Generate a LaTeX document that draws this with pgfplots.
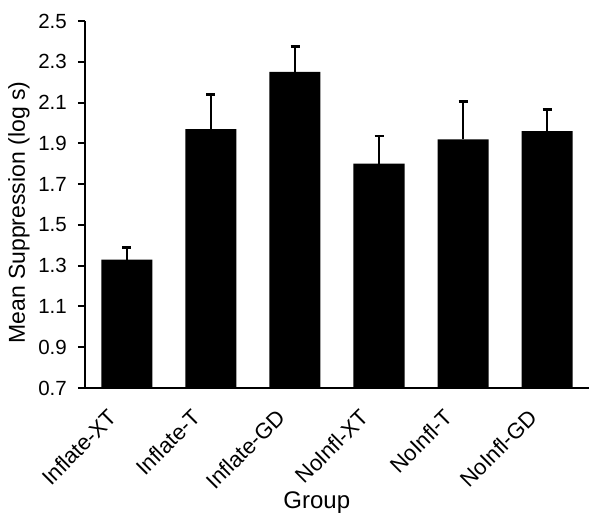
\documentclass[border=0pt]{standalone}
\usepackage{pgfplots}
\pgfplotsset{compat=1.18}
\usepackage{fontspec}
\setmainfont{Liberation Sans}
\begin{document}
\fontsize{21}{25}\selectfont
\begin{tikzpicture}
\useasboundingbox (-85pt,-132pt) rectangle (515pt,388pt);
\begin{axis}[
  at={(0pt,0pt)}, anchor=south west,
  scale only axis, width=504pt, height=367pt,
  xmin=-0.5, xmax=5.5, ymin=0.7, ymax=2.5,
  axis lines*=left,
  axis line style={line width=2pt, black},
  ytick={0.7,0.9,1.1,1.3,1.5,1.7,1.9,2.1,2.3,2.5},
  yticklabel style={/pgf/number format/fixed, /pgf/number format/precision=1, /pgf/number format/fixed zerofill, font=\fontsize{20.5}{24}\selectfont, xshift=-4pt},
  /pgf/number format/assume math mode=true,
  xtick={0,1,2,3,4,5},
  xticklabels={Inflate-XT,Inflate-T,Inflate-GD,NoInfl-XT,NoInfl-T,NoInfl-GD},
  x tick style={draw=none},
  y tick style={line width=2pt, black},
  tick align=outside, major tick length=7pt,
  xticklabel style={font=\fontsize{22}{26}\selectfont, rotate=45, anchor=north east, inner sep=0pt, xshift=-23pt, yshift=5pt},
  xlabel={Group}, ylabel={Mean Suppression (log s)},
  xlabel style={font=\fontsize{24}{28}\selectfont, at={(axis description cs:0.460,-0.311)}, anchor=center},
  ylabel style={font=\fontsize{23}{27}\selectfont, at={(axis description cs:-0.131,0.478)}, anchor=center},
  ybar, bar width=51pt,
]
\addplot[fill=black, draw=none,
  error bars/.cd, y dir=plus, y explicit,
  error bar style={line width=2.5pt, black},
  error mark options={rotate=90, line width=2.5pt, mark size=4.5pt, black}]
  table[x=x, y=y, y error=e] {
x y e
0 1.33 0.06
1 1.97 0.17
2 2.25 0.125
3 1.80 0.135
4 1.92 0.185
5 1.96 0.105
};
\end{axis}
\end{tikzpicture}
\end{document}
